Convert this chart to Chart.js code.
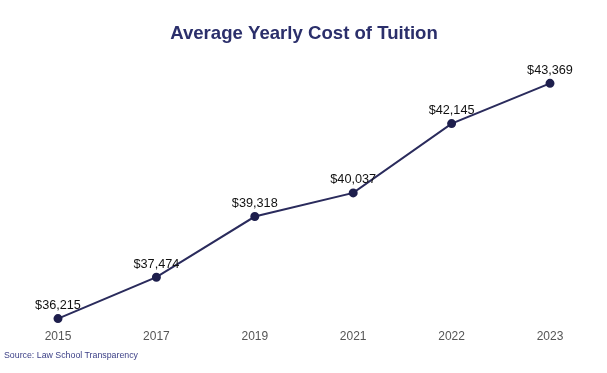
<!DOCTYPE html>
<html>
<head>
<meta charset="utf-8">
<script src="https://cdn.jsdelivr.net/npm/chart.js@4.4.1/dist/chart.umd.min.js"></script>
<style>
html,body{margin:0;padding:0;background:#fff;}
#wrap{position:relative;width:607px;height:373px;}
#source{position:absolute;left:4px;top:350px;font-family:"Liberation Sans",Arial,sans-serif;font-size:8.8px;color:#3b3f86;}
</style>
</head>
<body>
<div id="wrap">
<canvas id="c" width="607" height="373"></canvas>
<div id="source">Source: Law School Transparency</div>
</div>
<script>
const years = ["2015", "2017", "2019", "2021", "2022", "2023"];
const tuition = [36215, 37474, 39318, 40037, 42145, 43369];

const labelPlugin = {
  id: 'pointLabels',
  afterDatasetsDraw(chart) {
    const ctx = chart.ctx;
    const meta = chart.getDatasetMeta(0);
    ctx.save();
    ctx.font = '12.7px "Liberation Sans", Arial, sans-serif';
    ctx.fillStyle = '#111111';
    ctx.textAlign = 'center';
    ctx.textBaseline = 'middle';
    meta.data.forEach((pt, i) => {
      ctx.fillText('$' + tuition[i].toLocaleString('en-US'), pt.x, pt.y - 13);
    });
    ctx.restore();
  }
};

new Chart(document.getElementById('c'), {
  type: 'line',
  data: {
    labels: years,
    datasets: [{
      data: tuition,
      borderColor: '#2a2b5c',
      borderWidth: 2,
      pointRadius: 3.5,
      pointBackgroundColor: '#1e1f4d',
      pointBorderColor: '#1e1f4d',
      tension: 0,
      clip: false
    }]
  },
  options: {
    responsive: false,
    animation: false,
    layout: { padding: { left: 58, right: 57, top: 0, bottom: 26 } },
    plugins: {
      legend: { display: false },
      tooltip: { enabled: false },
      title: {
        display: true,
        text: 'Average Yearly Cost of Tuition',
        color: '#2b2f6b',
        font: { family: '"Liberation Sans", Arial, sans-serif', size: 18.6, weight: 'bold' },
        padding: { top: 23, bottom: 38 }
      }
    },
    scales: {
      x: {
        offset: false,
        grid: { display: false },
        border: { display: false },
        ticks: { color: '#555555', padding: 3, font: { family: '"Liberation Sans", Arial, sans-serif', size: 12 } }
      },
      y: {
        display: false,
        min: 36215,
        max: 43369
      }
    }
  },
  plugins: [labelPlugin]
});
</script>
</body>
</html>
